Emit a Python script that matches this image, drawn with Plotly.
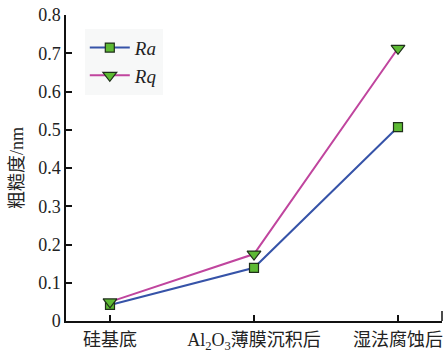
import plotly.graph_objects as go

# Surface roughness at each process stage
stages = ["硅基底", "Al<sub>2</sub>O<sub>3</sub>薄膜沉积后", "湿法腐蚀后"]
ra_values = [0.042, 0.139, 0.507]
rq_values = [0.050, 0.175, 0.713]
y_ticks = [0, 0.1, 0.2, 0.3, 0.4, 0.5, 0.6, 0.7, 0.8]
y_tick_text = ["0", "0.1", "0.2", "0.3", "0.4", "0.5", "0.6", "0.7", "0.8"]

x_pos = list(range(len(stages)))
font_family = "'Liberation Serif', 'Times New Roman', 'Noto Sans CJK SC', serif"
marker_green = "#5dba34"
marker_edge = "#1f2f1a"

fig = go.Figure()
fig.add_trace(go.Scatter(
    x=x_pos, y=ra_values, name="<i>Ra</i>", mode="lines+markers",
    line=dict(color="#3653a8", width=2),
    marker=dict(symbol="square", size=9, color=marker_green,
                line=dict(color=marker_edge, width=1.2)),
))
fig.add_trace(go.Scatter(
    x=x_pos, y=rq_values, name="<i>Rq</i>", mode="lines+markers",
    line=dict(color="#c0459e", width=2),
    marker=dict(symbol="triangle-down", size=12, color=marker_green,
                line=dict(color=marker_edge, width=1.2)),
))

fig.update_layout(
    width=448, height=354,
    margin=dict(l=66, r=6, t=15, b=33, autoexpand=False),
    paper_bgcolor="white", plot_bgcolor="white",
    font=dict(family=font_family, size=17, color="#222222"),
    showlegend=True,
    legend=dict(
        x=0.05, y=0.955, xanchor="left", yanchor="top",
        bgcolor="#f7f8f8", borderwidth=0,
        font=dict(family=font_family, size=19, color="#222222"),
        tracegroupgap=4, itemwidth=40,
    ),
    xaxis=dict(
        range=[-0.3056, 2.3056], automargin=False,
        tickmode="array", tickvals=x_pos, ticktext=stages,
        ticks="inside", ticklen=6, tickwidth=1.5, tickcolor="#111111",
        showline=True, linecolor="#111111", linewidth=1.5,
        showgrid=False, zeroline=False,
        ticklabelstandoff=2,
        tickfont=dict(family=font_family, size=18, color="#222222"),
    ),
    yaxis=dict(
        range=[0, 0.8], automargin=False,
        tickmode="array", tickvals=y_ticks, ticktext=y_tick_text,
        ticks="inside", ticklen=6, tickwidth=1.5, tickcolor="#111111",
        showline=True, linecolor="#111111", linewidth=1.5,
        showgrid=False, zeroline=False,
        tickfont=dict(family=font_family, size=18, color="#222222"),
        title=dict(text="粗糙度/nm",
                   font=dict(family=font_family, size=18, color="#222222"),
                   standoff=10),
    ),
)

# Closing tick at the right end of the x axis
fig.add_shape(type="line", xref="paper", yref="paper",
              x0=1, x1=1, y0=0, y1=0.033,
              line=dict(color="#111111", width=1.5))

fig.write_html("out.html")
